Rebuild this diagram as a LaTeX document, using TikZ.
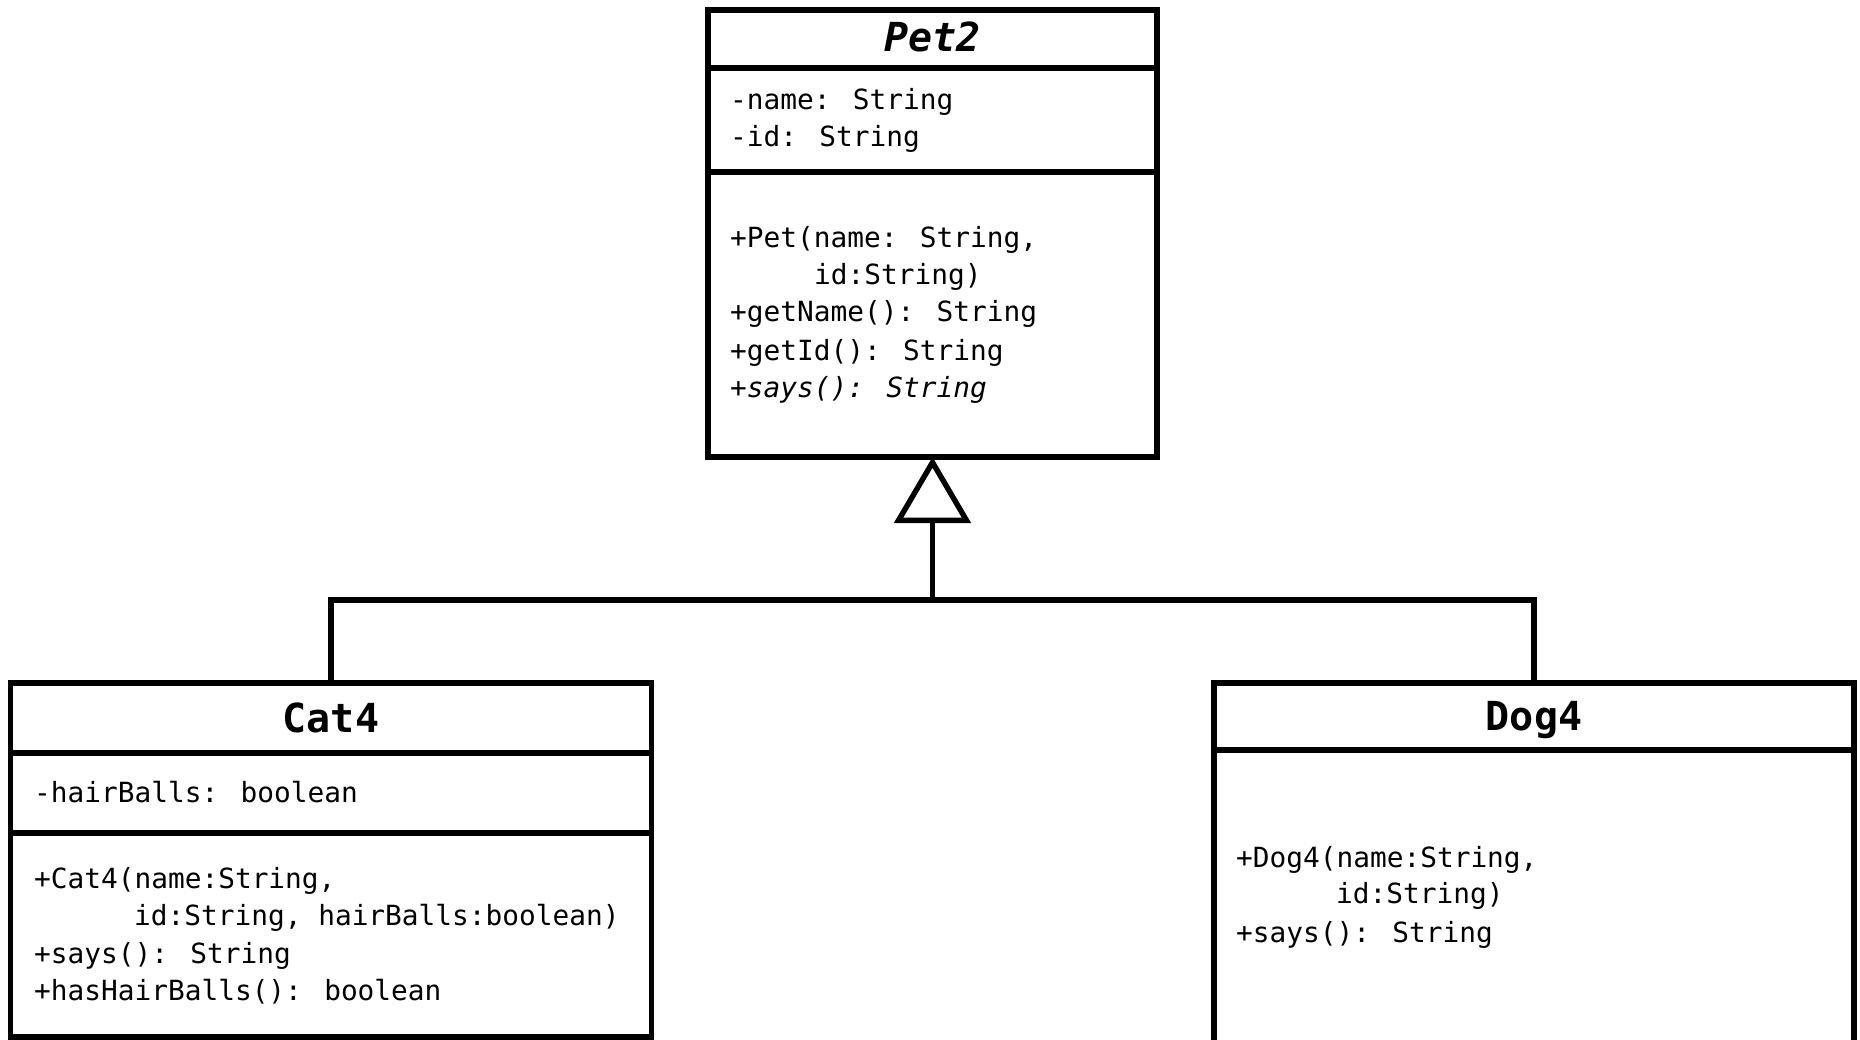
\documentclass[tikz,border=0pt]{standalone}
\usepackage{fontspec}
\newfontfamily\mono{DejaVu Sans Mono}
\usetikzlibrary{arrows.meta}
\begin{document}
\begin{tikzpicture}[x=1pt,y=-1pt,
  box/.style={draw, line width=5.6pt, rectangle, inner sep=0pt, outer sep=0pt},
  sepline/.style={line width=5.6pt},
  txt/.style={anchor=base west, inner sep=0pt, font=\mono\fontsize{27.8}{37.5}\selectfont},
  ttl/.style={anchor=base, inner sep=0pt, font=\mono\bfseries\fontsize{40}{48}\selectfont},
  conn/.style={line width=5.4pt}]
\useasboundingbox (0,0) rectangle (1860,1040);
\clip (0,0) rectangle (1860,1040);
% Pet2
\node[box, minimum width=449pt, minimum height=447pt] (pet) at (932.5,233.5) {};
\draw[sepline] (pet.west |- 0,68) -- (pet.east |- 0,68);
\draw[sepline] (pet.west |- 0,172) -- (pet.east |- 0,172);
\node[ttl, font=\mono\bfseries\itshape\fontsize{40}{48}\selectfont] (pett) at (932.5,52) {Pet2};
\node[txt] (pa1) at (730,110) {-name: String};
\node[txt] (pa2) at (730,147) {-id: String};
\node[txt] (pm1) at (730,248) {+Pet(name: String,};
\node[txt] (pm2) at (814,285) {id:String)};
\node[txt] (pm3) at (730,322) {+getName(): String};
\node[txt] (pm4) at (730,360) {+getId(): String};
\node[txt, font=\mono\itshape\fontsize{27.8}{37.5}\selectfont] (pm5) at (730,397) {+says(): String};
% Cat4
\node[box, minimum width=641pt, minimum height=354pt] (cat) at (331,860) {};
\draw[sepline] (cat.west |- 0,753) -- (cat.east |- 0,753);
\draw[sepline] (cat.west |- 0,833) -- (cat.east |- 0,833);
\node[ttl] (catt) at (331,732) {Cat4};
\node[txt] (ca1) at (34,802) {-hairBalls: boolean};
\node[txt] (cm1) at (34,888) {+Cat4(name:String,};
\node[txt] (cm2) at (134,925) {id:String, hairBalls:boolean)};
\node[txt] (cm3) at (34,963) {+says(): String};
\node[txt] (cm4) at (34,1000) {+hasHairBalls(): boolean};
% Dog4
\node[box, minimum width=640pt, minimum height=382pt] (dog) at (1534,874) {};
\draw[sepline] (dog.west |- 0,750) -- (dog.east |- 0,750);
\node[ttl] (dogt) at (1534,730) {Dog4};
\node[txt] (dm1) at (1236,867) {+Dog4(name:String,};
\node[txt] (dm2) at (1336,903) {id:String)};
\node[txt] (dm3) at (1236,942) {+says(): String};
% generalization
\coordinate (joint) at (932.5,600);
\draw[conn] (cat.north) |- (joint) -| (dog.north);
\draw[conn, -{Triangle[open, length=66pt, width=76pt]}] (joint) -- (pet.south);
\end{tikzpicture}
\end{document}
